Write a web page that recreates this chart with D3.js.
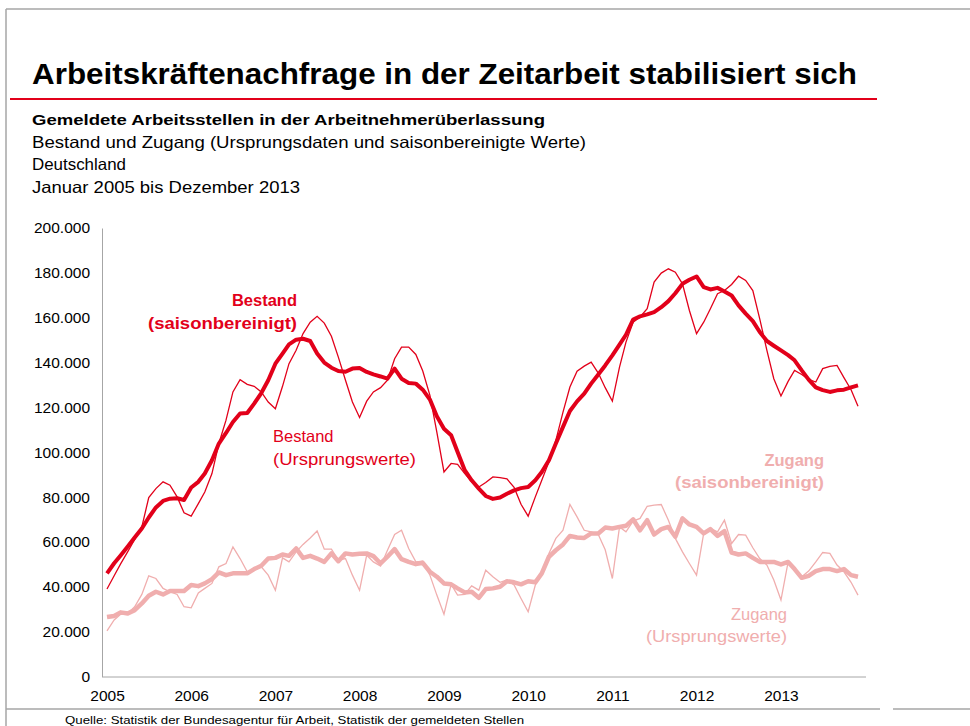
<!DOCTYPE html>
<html>
<head>
<meta charset="utf-8">
<script src="https://cdn.jsdelivr.net/npm/d3@7"></script>
<style>
  body { margin: 0; background: #fff; }
  svg { display: block; font-family: "Liberation Sans", Arial, sans-serif; }
</style>
</head>
<body>
<svg id="chart" width="970" height="726"></svg>
<script>
// Monatswerte Januar 2005 bis Dezember 2013
const startMonth = new Date(2005, 0, 1);
const yearLabels = ["2005", "2006", "2007", "2008", "2009", "2010", "2011", "2012", "2013"];
const yTicks = [0, 20000, 40000, 60000, 80000, 100000, 120000, 140000, 160000, 180000, 200000];

const bestandSA = [
  46000, 50500, 54000, 58000, 62000, 66000, 70900, 75400, 78300, 79300, 79500, 78700,
  84300, 86800, 90500, 96400, 103900, 108600, 113500, 117300, 117500, 121700, 126400, 132100,
  139500, 144000, 148100, 150200, 150600, 149600, 144000, 140000, 137700, 136200, 135900, 137300,
  137600, 135800, 134700, 133800, 132800, 137300, 132800, 130900, 130600, 127900, 123500, 116000,
  110500, 107600, 100100, 92000, 87500, 83800, 80500, 79200, 79800, 81500, 83000, 84000,
  84500, 87500, 91200, 96400, 103900, 111300, 118400, 122700, 126100, 130600, 134700, 138700,
  143200, 148000, 152400, 159200, 160600, 161500, 162500, 164700, 167400, 170900, 175100, 176900,
  178400, 173600, 172600, 173300, 171700, 169900, 165500, 161800, 158500, 153600, 149600, 147500,
  145400, 143300, 141000, 136500, 132400, 128900, 127700, 126900, 127600, 127900, 128900, 129800
];
const bestandOrig = [
  39000, 44900, 50200, 55700, 61100, 66700, 79800, 83800, 86800, 85300, 80100, 73000,
  71500, 77100, 82300, 90500, 103900, 114300, 126900, 132400, 130300, 129400, 126900, 122400,
  119400, 129400, 139500, 145500, 152900, 158000, 160600, 157600, 151700, 142400, 132100, 122400,
  115500, 122800, 126900, 128800, 132100, 141700, 146900, 146900, 143600, 136200, 125400, 109000,
  91200, 95000, 94600, 90500, 86800, 84500, 86500, 89000, 88700, 88100, 84300, 76800,
  71500, 80100, 87500, 95700, 105300, 117900, 129100, 136100, 138400, 140200, 135300, 128800,
  122800, 138000, 149100, 158000, 160300, 164000, 175900, 179900, 181800, 180300, 175100, 163200,
  152900, 158000, 164000, 170700, 172100, 174800, 178500, 176600, 172100, 159500, 145400, 132800,
  125100, 131600, 136500, 134700, 132500, 131300, 137300, 138300, 138700, 133300, 127900, 120500
];
const zugangSA = [
  26500, 27000, 28600, 28100, 29600, 32600, 36000, 37800, 36600, 38100, 38100, 38100,
  40800, 40300, 41500, 43400, 46400, 45200, 46000, 46000, 46000, 47900, 49400, 52600,
  52900, 54400, 53800, 57100, 52900, 53800, 52600, 51100, 54900, 51400, 54900, 54400,
  54700, 54900, 53700, 50400, 53400, 56800, 52300, 51100, 50100, 50700, 46700, 44500,
  41500, 41100, 39300, 37500, 37800, 35100, 39000, 39300, 40000, 42500, 42000, 41100,
  42500, 42000, 46000, 53400, 56300, 58900, 62700, 62000, 61800, 63800, 63800, 66400,
  66000, 66700, 67200, 70100, 65200, 69700, 63300, 65700, 66700, 62300, 70500, 67800,
  66700, 63800, 65700, 62700, 64800, 55300, 54400, 54900, 52900, 51100, 51100, 51100,
  50000, 51100, 47900, 44000, 44900, 47000, 47900, 47900, 47000, 47900, 45200, 44500
];
const zugangOrig = [
  20300, 25200, 27700, 28100, 31100, 36600, 44900, 43700, 39300, 37800, 36600, 31100,
  30600, 37300, 39300, 41500, 48900, 50400, 57800, 52600, 46700, 47400, 48900, 45200,
  38500, 52900, 51100, 55600, 58900, 61800, 64900, 56800, 56800, 51900, 52600, 45200,
  38500, 54100, 51100, 49200, 56300, 63300, 65200, 57100, 51100, 51400, 45200, 36300,
  27800, 41100, 36300, 36600, 40400, 38500, 47400, 44500, 42000, 43000, 40800, 34800,
  28900, 40800, 46000, 54900, 61600, 65200, 76700, 71200, 65200, 64500, 63300, 56500,
  43700, 66700, 64500, 69300, 70500, 75900, 76400, 76700, 69700, 61600, 55600, 50400,
  45200, 63800, 66000, 64500, 69700, 59300, 63300, 63000, 57400, 52600, 49700, 43000,
  34100, 51100, 48500, 44500, 47000, 51100, 55300, 54900, 49700, 46700, 42000, 36300
];

const months = bestandSA.map((d, i) => d3.timeMonth.offset(startMonth, i));

const red = "#e2001a";
const pink = "#f0aeae";
const frameGrey = "#a6a6a6";

const svg = d3.select("#chart");

// Rahmen
svg.append("line").attr("x1", 6).attr("x2", 970).attr("y1", 9).attr("y2", 9)
    .attr("stroke", frameGrey).attr("stroke-width", 1.5);
svg.append("line").attr("x1", 6).attr("x2", 6).attr("y1", 9).attr("y2", 726)
    .attr("stroke", frameGrey).attr("stroke-width", 1.5);
svg.append("line").attr("x1", 6).attr("x2", 880).attr("y1", 709).attr("y2", 709)
    .attr("stroke", frameGrey).attr("stroke-width", 1.5);
svg.append("line").attr("x1", 893).attr("x2", 970).attr("y1", 709).attr("y2", 709)
    .attr("stroke", frameGrey).attr("stroke-width", 1.5);

// Text mit fester Breite
function addText(str, x, y, size, weight, fill, width, anchor) {
    const t = svg.append("text")
        .attr("x", x).attr("y", y)
        .attr("font-size", size)
        .attr("font-weight", weight)
        .attr("fill", fill)
        .attr("text-anchor", anchor || "start")
        .text(str);
    if (width) t.attr("textLength", width).attr("lengthAdjust", "spacingAndGlyphs");
    return t;
}

addText("Arbeitskräftenachfrage in der Zeitarbeit stabilisiert sich", 32, 84, 29, "bold", "#000", 825);
svg.append("line").attr("x1", 10).attr("x2", 877).attr("y1", 99).attr("y2", 99)
    .attr("stroke", red).attr("stroke-width", 2);

addText("Gemeldete Arbeitsstellen in der Arbeitnehmerüberlassung", 32, 125, 15, "bold", "#000", 513);
addText("Bestand und Zugang (Ursprungsdaten und saisonbereinigte Werte)", 32, 148, 16.5, "normal", "#000", 554);
addText("Deutschland", 32, 170, 16.5, "normal", "#000", 94);
addText("Januar 2005 bis Dezember 2013", 32, 193, 16.5, "normal", "#000", 268);

addText("Quelle: Statistik der Bundesagentur für Arbeit, Statistik der gemeldeten Stellen", 65, 724, 11.5, "normal", "#000", 459);

// Skalen
const x = d3.scaleTime()
    .domain([months[0], months[months.length - 1]])
    .range([107, 858]);
const y = d3.scaleLinear()
    .domain([0, 200000])
    .range([676.5, 228]);

const de = d3.formatLocale({ decimal: ",", thousands: ".", grouping: [3], currency: ["", " €"] });

// Y-Achse
const yAxis = svg.append("g")
    .attr("transform", "translate(102,0)")
    .call(d3.axisLeft(y).tickValues(yTicks).tickFormat(de.format(",d")).tickSize(0).tickPadding(12));
yAxis.select(".domain").attr("stroke", frameGrey);
yAxis.selectAll("text")
    .attr("font-size", 15.5)
    .attr("font-family", "Liberation Sans, Arial, sans-serif")
    .attr("fill", "#000");

// X-Achse
const xAxis = svg.append("g")
    .attr("transform", "translate(0,677)")
    .call(d3.axisBottom(x)
        .tickValues(yearLabels.map(yr => new Date(+yr, 0, 1)))
        .tickFormat(d3.timeFormat("%Y"))
        .tickSize(0).tickPadding(13));
xAxis.select(".domain").attr("d", "M102,0H866").attr("stroke", frameGrey);
xAxis.selectAll("text")
    .attr("font-size", 15.5)
    .attr("font-family", "Liberation Sans, Arial, sans-serif")
    .attr("fill", "#000");

// Linien
const line = d3.line()
    .x((d, i) => x(months[i]))
    .y(d => y(d));

svg.append("path").datum(zugangOrig).attr("d", line)
    .attr("fill", "none").attr("stroke", pink).attr("stroke-width", 1.3);
svg.append("path").datum(zugangSA).attr("d", line)
    .attr("fill", "none").attr("stroke", pink).attr("stroke-width", 4.5).attr("stroke-linejoin", "round");
svg.append("path").datum(bestandOrig).attr("d", line)
    .attr("fill", "none").attr("stroke", red).attr("stroke-width", 1.3);
svg.append("path").datum(bestandSA).attr("d", line)
    .attr("fill", "none").attr("stroke", red).attr("stroke-width", 4).attr("stroke-linejoin", "round");

// Beschriftungen der Reihen
addText("Bestand", 297, 306, 16.5, "bold", red, null, "end");
addText("(saisonbereinigt)", 297, 329, 16.5, "bold", red, 149, "end");
addText("Bestand", 273, 442, 16.5, "normal", red);
addText("(Ursprungswerte)", 273, 465, 16.5, "normal", red, 143);
addText("Zugang", 824, 466, 16.5, "bold", pink, null, "end");
addText("(saisonbereinigt)", 824, 488, 16.5, "bold", pink, 149, "end");
addText("Zugang", 787, 620, 16.5, "normal", pink, null, "end");
addText("(Ursprungswerte)", 787, 642, 16.5, "normal", pink, 141, "end");
</script>
</body>
</html>
